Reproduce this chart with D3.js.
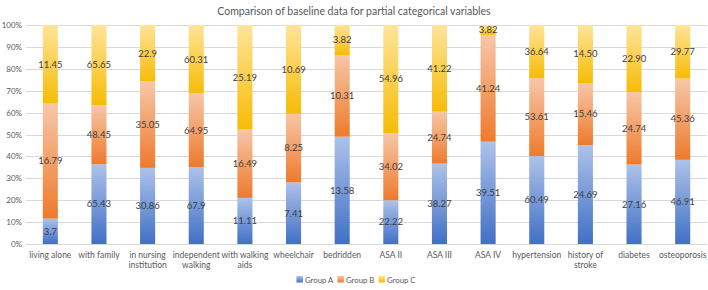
<!DOCTYPE html>
<html>
<head>
<meta charset="utf-8">
<script src="https://cdn.jsdelivr.net/npm/d3@7"></script>
<style>
  body { margin: 0; background: #fff; }
  svg { display: block; font-family: Lato, "Noto Sans", sans-serif; }
</style>
</head>
<body>
<svg id="chart" width="708" height="290"></svg>
<script>
var categories = ["living alone", "with family", "in nursing institution", "independent walking",
  "with walking aids", "wheelchair", "bedridden", "ASA II", "ASA III", "ASA IV",
  "hypertension", "history of stroke", "diabetes", "osteoporosis"];
var categoryLines = [["living alone"], ["with family"], ["in nursing", "institution"], ["independent", "walking"],
  ["with walking", "aids"], ["wheelchair"], ["bedridden"], ["ASA II"], ["ASA III"], ["ASA IV"],
  ["hypertension"], ["history of", "stroke"], ["diabetes"], ["osteoporosis"]];
var groupA = ["3.7", "65.43", "30.86", "67.9", "11.11", "7.41", "13.58", "22.22", "38.27", "39.51", "60.49", "24.69", "27.16", "46.91"];
var groupB = ["16.79", "48.45", "35.05", "64.95", "16.49", "8.25", "10.31", "34.02", "24.74", "41.24", "53.61", "15.46", "24.74", "45.36"];
var groupC = ["11.45", "65.65", "22.9", "60.31", "25.19", "10.69", "3.82", "54.96", "41.22", "3.82", "36.64", "14.50", "22.90", "29.77"];
var seriesNames = ["Group A", "Group B", "Group C"];
var yTicks = [0, 0.1, 0.2, 0.3, 0.4, 0.5, 0.6, 0.7, 0.8, 0.9, 1];

var colors = {
  "Group A": {top: "#adc2e9", bottom: "#4170c6"},
  "Group B": {top: "#f7c7a8", bottom: "#ee7a2c"},
  "Group C": {top: "#ffe49a", bottom: "#f6bc06"}
};

var raw = [groupA, groupB, groupC];
var table = categories.map(function(c, i) {
  var row = {category: c};
  seriesNames.forEach(function(s, j) { row[s] = +raw[j][i]; row[s + "_label"] = raw[j][i]; });
  return row;
});

var svg = d3.select("#chart"),
    margin = {top: 25, right: 1, bottom: 46, left: 26};
var width = 708 - margin.left - margin.right;
var height = 290 - margin.top - margin.bottom;

var defs = svg.append("defs");
seriesNames.forEach(function(s, j) {
  var g = defs.append("linearGradient").attr("id", "grad" + j)
      .attr("x1", 0).attr("y1", 0).attr("x2", 0).attr("y2", 1);
  g.append("stop").attr("offset", "0%").attr("stop-color", colors[s].top);
  g.append("stop").attr("offset", "100%").attr("stop-color", colors[s].bottom);
});

svg.append("text")
    .attr("x", 354).attr("y", 15)
    .attr("text-anchor", "middle")
    .attr("font-size", 10.5)
    .attr("fill", "#595959")
    .text("Comparison of baseline data for partial categorical variables");

var canvas = svg.append("g").attr("transform", "translate(" + margin.left + "," + margin.top + ")");

var x = d3.scaleBand().domain(categories).range([0, width]).paddingInner(0.69).paddingOuter(0.345);
var y = d3.scaleLinear().domain([0, 1]).range([height, 0]);

// gridlines
canvas.append("g")
    .selectAll("line")
    .data(yTicks)
  .enter().append("line")
    .attr("x1", 0).attr("x2", width)
    .attr("y1", function(d) { return Math.round(y(d)) + 0.5; })
    .attr("y2", function(d) { return Math.round(y(d)) + 0.5; })
    .attr("stroke", "#d9d9d9")
    .attr("stroke-width", 1);

var yAxis = d3.axisLeft(y).tickValues(yTicks).tickFormat(d3.format(".0%")).tickSize(0).tickPadding(4);
canvas.append("g")
    .attr("class", "y axis")
    .call(yAxis)
    .call(function(g) { g.select(".domain").remove(); })
  .selectAll("text")
    .attr("font-size", 8)
    .attr("font-family", "Lato, 'Noto Sans', sans-serif")
    .attr("fill", "#595959");

var stack = d3.stack().keys(seriesNames).offset(d3.stackOffsetExpand);
var stacked = stack(table);

var layers = canvas.selectAll("g.layer")
    .data(stacked)
  .enter().append("g")
    .attr("class", "layer");

layers.selectAll("rect")
    .data(function(d) { return d; })
  .enter().append("rect")
    .attr("x", function(d) { return x(d.data.category); })
    .attr("width", x.bandwidth())
    .attr("y", function(d) { return y(d[1]); })
    .attr("height", function(d) { return y(d[0]) - y(d[1]); })
    .style("fill", function(d, i, nodes) {
      var j = stacked.indexOf(d3.select(nodes[i].parentNode).datum());
      return "url(#grad" + j + ")";
    });

layers.each(function(layer, j) {
  d3.select(this).selectAll("text")
      .data(layer)
    .enter().append("text")
      .attr("x", function(d) { return x(d.data.category) + x.bandwidth() / 2; })
      .attr("y", function(d) { return (y(d[0]) + y(d[1])) / 2; })
      .attr("dy", "0.35em")
      .attr("text-anchor", "middle")
      .attr("font-size", 9.5)
      .attr("fill", "#404040")
      .text(function(d) { return d.data[layer.key + "_label"]; });
});

// x labels
var xl = canvas.append("g")
    .selectAll("text")
    .data(categories)
  .enter().append("text")
    .attr("x", function(d) { return x(d) + x.bandwidth() / 2; })
    .attr("y", height + 14)
    .attr("text-anchor", "middle")
    .attr("font-size", 8.5)
    .attr("fill", "#595959");
xl.selectAll("tspan")
    .data(function(d, i) { return categoryLines[i]; })
  .enter().append("tspan")
    .attr("x", function() { var c = d3.select(this.parentNode).datum(); return x(c) + x.bandwidth() / 2; })
    .attr("dy", function(d, i) { return i === 0 ? 0 : 10; })
    .text(function(d) { return d; });

// legend, centred
var legend = svg.append("g");
var lx = 0;
seriesNames.forEach(function(s, j) {
  var item = legend.append("g").attr("transform", "translate(" + lx + ",0)");
  item.append("rect").attr("x", 0).attr("y", -6).attr("width", 6.5).attr("height", 6.5)
      .style("fill", "url(#grad" + j + ")");
  var t = item.append("text").attr("x", 8.5).attr("y", 0.5)
      .attr("font-size", 7.8).attr("fill", "#595959").text(s);
  lx += 8.5 + t.node().getComputedTextLength() + (j < seriesNames.length - 1 ? 4 : 0);
});
legend.attr("transform", "translate(" + (356 - lx / 2) + ",282)");
</script>
</body>
</html>
